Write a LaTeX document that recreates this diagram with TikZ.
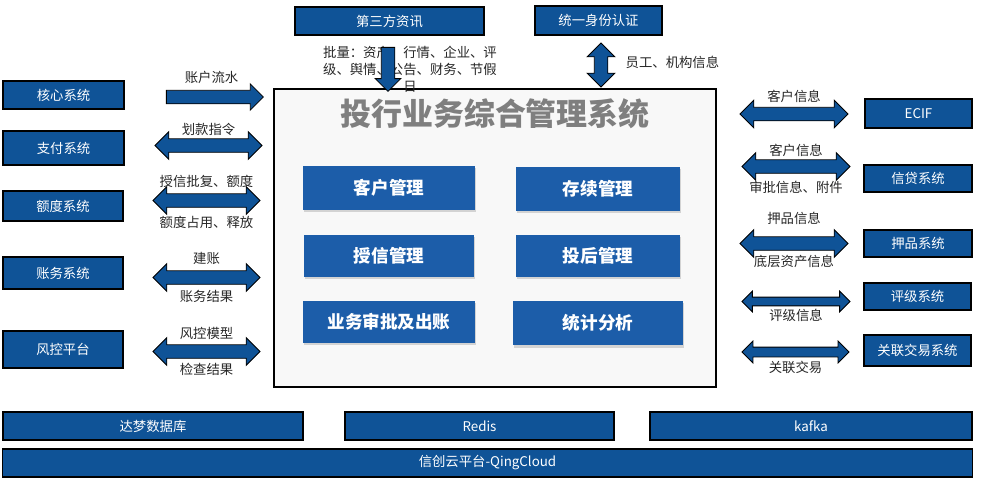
\documentclass[tikz,border=0pt]{standalone}
\usepackage{fontspec}
\setmainfont{Noto Sans CJK SC}
\usetikzlibrary{positioning, shapes.arrows, shadows}

\definecolor{sysblue}{HTML}{0F5397}
\definecolor{modblue}{HTML}{1C5DA9}
\definecolor{mainbg}{HTML}{F8F8F8}
\definecolor{titlegray}{HTML}{7F7F7F}

\tikzset{
    sysbox/.style={draw=black, fill=sysblue, text=white, line width=0.8pt, inner sep=0pt,
        font=\fontsize{9.5}{11}\selectfont},
    modbox/.style={fill=modblue, text=white, inner sep=0pt, minimum height=1.1cm,
        font=\bfseries\fontsize{12.5}{14}\selectfont,
        drop shadow={shadow xshift=1pt, shadow yshift=-1.5pt, opacity=0.3}},
    dblarrow/.style={double arrow, draw=black, fill=sysblue, line width=0.6pt,
        inner xsep=0pt, inner ysep=4.5pt, minimum width=0pt, double arrow head extend=5pt},
    onearrow/.style={single arrow, draw=black, fill=sysblue, line width=0.6pt,
        inner xsep=0pt, inner ysep=4.5pt, minimum width=0pt, single arrow head extend=4.5pt},
    vertical/.style={inner xsep=4.5pt, inner ysep=0pt},
    lbl/.style={inner sep=1pt, text=black!85, font=\fontsize{9.5}{11}\selectfont},
}

\begin{document}
\begin{tikzpicture}[x=0.025cm, y=-0.025cm, node distance=8pt]
    \useasboundingbox (0,0) rectangle (981,487);

    % 主系统
    \node[draw=black, line width=1.4pt, fill=mainbg, minimum width=11.05cm, minimum height=7.45cm] (main) at (495,238) {};
    \node[text=titlegray, font=\bfseries\fontsize{22}{25}\selectfont, below=4pt of main.north] (title) {投行业务综合管理系统};

    % 功能模块
    \node[modbox, minimum width=4.3cm] (cust) at (389,188) {客户管理};
    \node[modbox, minimum width=4.1cm] (dur) at (598,189) {存续管理};
    \node[modbox, minimum width=4.25cm, minimum height=1.05cm] (credit) at (389,256) {授信管理};
    \node[modbox, minimum width=4.1cm, minimum height=1.05cm] (post) at (598,256) {投后管理};
    \node[modbox, minimum width=4.3cm, minimum height=1.05cm] (approve) at (389,322) {业务审批及出账};
    \node[modbox, minimum width=4.25cm, minimum height=1.12cm] (stat) at (598,323) {统计分析};

    % 上方系统
    \node[sysbox, minimum width=4.725cm, minimum height=0.7cm] (third) at (389.5,21) {第三方资讯};
    \node[sysbox, minimum width=3.175cm, minimum height=0.725cm] (iam) at (598.5,20.5) {统一身份认证};
    \node[lbl, align=center, font=\fontsize{9.5}{12.2}\selectfont] (bulk) at (410,69) {批量：资产、行情、企业、评\\级、舆情、公告、财务、节假\\日};
    \node[onearrow, vertical, shape border rotate=270, minimum height=1.1cm, single arrow head extend=4.3pt] (thirdarrow) at (388,66) {};
    \node[dblarrow, vertical, shape border rotate=90, minimum height=1.1cm] (iamarrow) at (601,65) {};
    \node[lbl, anchor=west] (iamlbl) at (624,62) {员工、机构信息};

    % 左侧系统
    \node[sysbox, minimum width=3.025cm, minimum height=0.7cm] (core) at (63.5,95) {核心系统};
    \node[sysbox, minimum width=3.025cm, minimum height=0.85cm] (pay) at (63.5,148) {支付系统};
    \node[sysbox, minimum width=3cm, minimum height=0.75cm] (quota) at (63,206) {额度系统};
    \node[sysbox, minimum width=3cm, minimum height=0.8cm] (ledger) at (63,273) {账务系统};
    \node[sysbox, minimum width=3cm, minimum height=0.925cm] (risk) at (63,349.5) {风控平台};

    \node[onearrow, minimum height=2.425cm] (corearrow) at (211.5,97) {};
    \node[lbl, above=8pt of corearrow.center] {账户流水};
    \node[dblarrow, minimum height=2.675cm] (payarrow) at (208.5,145.5) {};
    \node[lbl, above=6pt of payarrow.center] {划款指令};
    \node[dblarrow, minimum height=2.675cm] (quotaarrow) at (206.5,200.5) {};
    \node[lbl, above=of quotaarrow.center] {授信批复、额度};
    \node[lbl, below=10pt of quotaarrow.center] {额度占用、释放};
    \node[dblarrow, minimum height=2.675cm] (ledgerarrow) at (206.5,277.5) {};
    \node[lbl, above=of ledgerarrow.center] {建账};
    \node[lbl, below=of ledgerarrow.center] {账务结果};
    \node[dblarrow, minimum height=2.675cm] (riskarrow) at (206.5,351.5) {};
    \node[lbl, above=7pt of riskarrow.center] {风控模型};
    \node[lbl, below=7pt of riskarrow.center] {检查结果};

    % 右侧系统
    \node[sysbox, minimum width=2.675cm, minimum height=0.725cm] (ecif) at (918.5,113.5) {ECIF};
    \node[sysbox, minimum width=2.7cm, minimum height=0.675cm] (loan) at (918,178.5) {信贷系统};
    \node[sysbox, minimum width=2.7cm, minimum height=0.675cm] (collat) at (918,243.5) {押品系统};
    \node[sysbox, minimum width=2.675cm, minimum height=0.675cm] (rating) at (917.5,296.5) {评级系统};
    \node[sysbox, minimum width=2.675cm, minimum height=0.775cm] (related) at (917.5,350.5) {关联交易系统};

    \node[dblarrow, minimum height=2.7cm] (ecifarrow) at (794,114) {};
    \node[lbl, above=7pt of ecifarrow.center] {客户信息};
    \node[dblarrow, minimum height=2.7cm] (loanarrow) at (796,166.5) {};
    \node[lbl, above=6pt of loanarrow.center] {客户信息};
    \node[lbl, below=9pt of loanarrow.center] {审批信息、附件};
    \node[dblarrow, minimum height=2.7cm] (collatarrow) at (794,243.5) {};
    \node[lbl, above=12pt of collatarrow.center] {押品信息};
    \node[lbl, below=7pt of collatarrow.center] {底层资产信息};
    \node[dblarrow, minimum height=2.7cm, inner ysep=2.8pt, double arrow head extend=4.3pt] (ratingarrow) at (796,301.5) {};
    \node[lbl, below=4pt of ratingarrow.center] {评级信息};
    \node[dblarrow, minimum height=2.675cm, inner ysep=3.2pt, double arrow head extend=4.3pt] (relatedarrow) at (795.5,352) {};
    \node[lbl, below=5pt of relatedarrow.center] {关联交易};

    % 底层平台
    \node[sysbox, minimum width=7.5cm, minimum height=0.7cm] (dm) at (153,426) {达梦数据库};
    \node[sysbox, minimum width=6.725cm, minimum height=0.7cm] (redis) at (479.5,426) {Redis};
    \node[sysbox, minimum width=8.05cm, minimum height=0.7cm] (kafka) at (811,426) {kafka};
    \node[sysbox, minimum width=24.225cm, minimum height=0.7cm] (cloud) at (487.5,463) {信创云平台-QingCloud};

\end{tikzpicture}
\end{document}
